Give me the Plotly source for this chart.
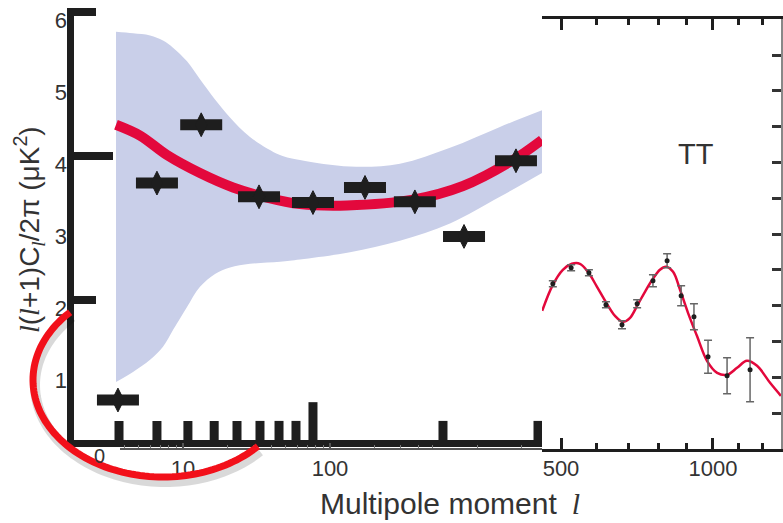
import numpy as np
import plotly.graph_objects as go

W, H = 783, 523
def fx(p): return p / W
def fy(p): return 1 - p / H

# ---------------- Low-l inset (log multipole axis) ----------------
band_l  = [3.50, 4.57, 5.97, 7.31, 8.55, 10.65, 13.05, 16.51, 20.88, 28.56, 45.7, 62.5, 136.8, 299, 655, 1432, 2768]
band_hi = [5.72, 5.70, 5.67, 5.60, 5.50, 5.31, 5.06, 4.78, 4.53, 4.26, 4.01, 3.94, 3.85, 3.89, 4.11, 4.40, 4.63]
band_lo = [0.86, 1.00, 1.17, 1.35, 1.58, 1.90, 2.18, 2.36, 2.45, 2.50, 2.53, 2.56, 2.66, 2.82, 3.06, 3.43, 3.76]

model_l = [3.50, 5.10, 7.78, 13.05, 21.9, 37.3, 62.5, 130.5, 367, 803, 1758, 2768]
model_d = [4.43, 4.28, 4.01, 3.76, 3.56, 3.42, 3.33, 3.31, 3.39, 3.58, 3.94, 4.22]

pts_l = [3.61, 6.65, 13.3, 32.9, 76.6, 173, 378, 816, 1841]
pts_d = [0.61, 3.62, 4.43, 3.43, 3.35, 3.56, 3.36, 2.88, 3.93]

bar_l = [3.67, 6.65, 10.8, 16.3, 23.3, 33.4, 45.0, 58.7, 76.6, 587, 2600]
bar_h = [0.32, 0.32, 0.32, 0.32, 0.32, 0.32, 0.32, 0.32, 0.58, 0.32, 0.32]

left_ticks = [1, 2, 3, 4, 5, 6]
under_major = [10, 100]
under_minor = [4, 5, 6, 7, 8, 9, 20, 30, 40, 50, 60, 70, 80, 90, 200, 300, 400, 500, 1000, 2000]

# ---------------- TT panel (sqrt-scaled multipole axis) ----------------
tt_curve_l = [450, 478, 505, 530, 553, 576, 603, 633, 658, 683, 706, 729, 755, 782, 806, 827,
              852, 877, 906, 939, 977, 1016, 1055, 1095, 1135, 1177, 1232, 1279]
tt_curve_d = [1927, 2290, 2500, 2584, 2584, 2472, 2262, 2025, 1857, 1774, 1830, 1997, 2193, 2374, 2500, 2542,
              2472, 2221, 1899, 1578, 1229, 1061, 1033, 1131, 1229, 1159, 922, 740]
tt_l   = [478, 528, 579, 630, 680, 729, 782, 831, 881, 928, 981, 1055, 1148]
tt_d   = [2304, 2528, 2458, 2011, 1732, 2025, 2346, 2626, 2137, 1843, 1285, 1020, 1103]
tt_err = [42, 42, 42, 42, 56, 56, 84, 98, 140, 182, 230, 251, 447]
tt_major = [500, 1000]
tt_minor = [600, 700, 800, 900, 1100, 1200]
tt_yticks = [500, 1000, 1500, 2000, 2500, 3000, 3500, 4000, 4500, 5000, 5500]

INK = "#1e1e1e"
RED = "#e3083c"
BAND = "#c9cfe9"
TXT = "#333333"
FONT = "Liberation Sans, Arial, Helvetica, sans-serif"
ELL = '<span style="font-family:Liberation Serif, DejaVu Serif, serif"><i>l</i></span>'

fig = go.Figure()

# band
fig.add_trace(go.Scatter(x=band_l, y=band_lo, mode="lines", line=dict(width=0, shape="spline"),
                         xaxis="x", yaxis="y", hoverinfo="skip"))
fig.add_trace(go.Scatter(x=band_l, y=band_hi, mode="lines", line=dict(width=0, shape="spline"),
                         fill="tonexty", fillcolor=BAND, xaxis="x", yaxis="y", hoverinfo="skip"))
# model
fig.add_trace(go.Scatter(x=model_l, y=model_d, mode="lines", line=dict(color=RED, width=10, shape="spline"),
                         xaxis="x", yaxis="y", hoverinfo="skip"))
# bottom bars
fig.add_trace(go.Scatter(x=bar_l, y=[0] * len(bar_l), mode="markers", marker=dict(size=1, opacity=0),
                         error_y=dict(type="data", symmetric=False, array=bar_h, arrayminus=[0] * len(bar_l),
                                      thickness=9, width=0, color=INK),
                         xaxis="x", yaxis="y", hoverinfo="skip"))
# data points
fig.add_trace(go.Scatter(x=pts_l, y=pts_d, mode="markers",
                         marker=dict(symbol="line-ew", size=30, line=dict(width=11, color=INK)),
                         xaxis="x", yaxis="y", hoverinfo="skip"))
fig.add_trace(go.Scatter(x=pts_l, y=pts_d, mode="markers",
                         marker=dict(symbol="diamond-tall", size=17, color=INK, line=dict(width=1, color=INK)),
                         xaxis="x", yaxis="y", hoverinfo="skip"))

# TT panel
fig.add_trace(go.Scatter(x=np.sqrt(tt_curve_l), y=tt_curve_d, mode="lines",
                         line=dict(color=RED, width=2.5, shape="spline"),
                         xaxis="x2", yaxis="y2", hoverinfo="skip"))
fig.add_trace(go.Scatter(x=np.sqrt(tt_l), y=tt_d, mode="markers",
                         marker=dict(size=5, color=INK),
                         error_y=dict(type="data", array=tt_err, thickness=1.5, width=4, color="#666666"),
                         xaxis="x2", yaxis="y2", hoverinfo="skip"))

# invisible traces so the helper axes are drawn
for xa, ya in [("x3", "y"), ("x", "y4"), ("x5", "y"), ("x4", "y2")]:
    fig.add_trace(go.Scatter(x=[10 if xa in ("x", "x3", "x5") else 30], y=[1], mode="markers",
                             marker=dict(opacity=0), xaxis=xa, yaxis=ya, hoverinfo="skip"))

lo_in = 1 + (73.5 - 183) / 147
hi_in = 1 + (542 - 183) / 147
lo_un = 1 + (120 - 183) / 147

common = dict(showgrid=False, zeroline=False, automargin=False)

fig.update_layout(
    width=W, height=H, margin=dict(l=0, r=0, t=0, b=0, pad=0, autoexpand=False),
    paper_bgcolor="white", plot_bgcolor="rgba(0,0,0,0)", showlegend=False,
    font=dict(family=FONT, color=TXT, size=22),
    xaxis=dict(type="log", domain=[fx(73.5), fx(542)], range=[lo_in, hi_in],
               anchor="y", showline=True, linewidth=7, linecolor=INK, ticks="", showticklabels=False, **common),
    yaxis=dict(domain=[fy(440), fy(8)], range=[0.055, 6.05], anchor="x",
               showline=True, linewidth=7, linecolor=INK,
               ticks="inside", tickvals=[2, 6], ticklen=22, tickwidth=8, tickcolor=INK,
               minor=dict(tickmode="array", tickvals=[4], ticks="inside", ticklen=39, tickwidth=8, tickcolor=INK),
               showticklabels=False, **common),
    yaxis4=dict(domain=[fy(452), fy(20)], range=[0, 6], anchor="free", position=fx(70),
                showline=False, ticks="", tickvals=left_ticks, ticktext=[str(v) for v in left_ticks],
                tickfont=dict(size=22, color=TXT), ticklabelstandoff=3, **common),
    xaxis3=dict(type="log", domain=[fx(120), fx(542)], range=[lo_un, hi_in],
                anchor="free", position=fy(449), showline=True, linewidth=2, linecolor="#555555",
                ticks="inside", tickvals=under_major, ticklen=5, tickwidth=1.5, tickcolor="#555555",
                minor=dict(tickmode="array", tickvals=under_minor, ticks="inside", ticklen=3,
                           tickwidth=1, tickcolor="#777777"),
                showticklabels=False, **common),
    xaxis5=dict(type="log", domain=[fx(120), fx(542)], range=[lo_un, hi_in],
                anchor="free", position=fy(453), showline=False, ticks="",
                tickvals=under_major, ticktext=[str(v) for v in under_major],
                tickfont=dict(size=22, color=TXT), ticklabelstandoff=0, **common),
    xaxis2=dict(domain=[fx(542), fx(781)], range=[21.203, 35.767], anchor="y2",
                showline=True, linewidth=3, linecolor=INK, mirror="ticks",
                ticks="inside", tickvals=list(np.sqrt(tt_major)),
                ticklen=11, tickwidth=3, tickcolor=INK,
                minor=dict(tickmode="array", tickvals=list(np.sqrt(tt_minor)), ticks="inside",
                           ticklen=6, tickwidth=3, tickcolor=INK),
                showticklabels=False, **common),
    xaxis4=dict(domain=[fx(542), fx(781)], range=[21.203, 35.767], anchor="free", position=fy(453),
                showline=False, ticks="", tickvals=list(np.sqrt(tt_major)), ticktext=[str(v) for v in tt_major],
                tickfont=dict(size=22, color=TXT), ticklabelstandoff=0, **common),
    yaxis2=dict(domain=[fy(448.8), fy(19.2)], range=[0, 6000], anchor="x2", side="right",
                showline=True, linewidth=1.5, linecolor="#888888",
                ticks="inside", tickvals=tt_yticks, ticklen=9, tickwidth=3, tickcolor="#333333",
                showticklabels=False, **common),
)

fig.add_annotation(x=fx(29), y=fy(230), xref="paper", yref="paper", showarrow=False, textangle=-90,
                   xanchor="center", yanchor="middle",
                   text=f"{ELL}({ELL}+1)C<sub>{ELL}</sub>/2π (μK<sup>2</sup>)",
                   font=dict(size=28, color=TXT, family=FONT))
fig.add_annotation(x=fx(318), y=fy(503), xref="paper", yref="paper", showarrow=False,
                   xanchor="left", yanchor="middle",
                   text=f"Multipole moment\u2002{ELL}", font=dict(size=30, color=TXT, family=FONT))
fig.add_annotation(x=fx(696), y=fy(154), xref="paper", yref="paper", showarrow=False,
                   xanchor="center", yanchor="middle",
                   text="TT", font=dict(size=29, color=TXT, family=FONT))
fig.add_annotation(x=fx(99), y=fy(443), xref="paper", yref="paper", showarrow=False,
                   xanchor="center", yanchor="top",
                   text="0", font=dict(size=20, color=TXT, family=FONT))

# red highlight ellipse arc (visible lower-left part) with soft shadow
cx, cy, rx, ry = 163, 380, 130, 97
t = np.radians(np.linspace(224.4, 43.1, 90))
def arc_path(dx, dy):
    xs = cx + rx * np.cos(t) + dx
    ys = cy + ry * np.sin(t) + dy
    return "M " + " L ".join(f"{fx(a):.5f},{fy(b):.5f}" for a, b in zip(xs, ys))

fig.add_shape(type="path", path=arc_path(2, 5), xref="paper", yref="paper", layer="above",
              line=dict(color="rgba(0,0,0,0.15)", width=10))
fig.add_shape(type="path", path=arc_path(0, 0), xref="paper", yref="paper", layer="above",
              line=dict(color="#f2101a", width=7))

fig.write_html("out.html")
